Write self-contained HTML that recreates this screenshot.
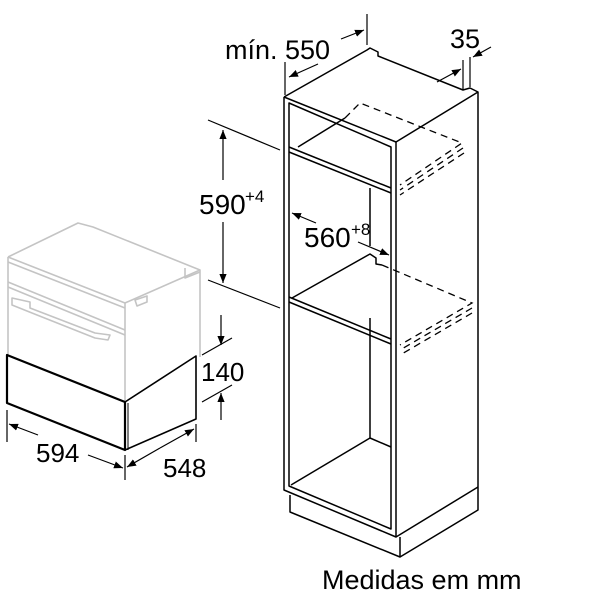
<!DOCTYPE html>
<html><head><meta charset="utf-8"><style>
html,body{margin:0;padding:0;background:#fff;}
svg{display:block;}
text{font-family:"Liberation Sans",sans-serif;fill:#000;}
</style></head><body>
<svg width="600" height="600" viewBox="0 0 600 600" xmlns="http://www.w3.org/2000/svg">
<defs>
<marker id="a" viewBox="0 0 10 10" refX="10" refY="5" markerWidth="9" markerHeight="9" orient="auto-start-reverse" markerUnits="userSpaceOnUse"><path d="M0,1 L10,5 L0,9 z" fill="#000"/></marker>
</defs>
<g fill="none" stroke="#c4c4c4" stroke-width="1.6" stroke-linejoin="round">
<path d="M8,257 L78,223 L93,227 L200,270 L200,357"/>
<path d="M8,257 L8,355"/>
<path d="M8,257 L125,303 L200,270"/>
<path d="M8,262 L125,308"/>
<path d="M125,303 L125,402"/>
<path d="M8,282 L125,330"/>
<path d="M8,287 L125,335"/>
<path d="M185,268 L185,278 L200,272"/>
<path d="M12,298 L30,302 L30,308 L95,333 L110,335 L108,340 L95,338 L32,313 L12,305 z"/>
<path d="M135,300 L147,296 L147,302 L137,306 z"/>
</g>
<g fill="none" stroke="#000" stroke-linejoin="round">
<path d="M7,355 L125,402 L125,450 L7,403 z" stroke-width="2.2"/>
<path d="M125,402 L196,356 L196,419 L125,450" stroke-width="1.6"/>
<path d="M128,403 L128,450" stroke-width="1"/>
</g>
<g stroke="#000" stroke-width="1.2" fill="none">
<line x1="7" y1="410" x2="7" y2="442"/>
<line x1="125" y1="455" x2="125" y2="480"/>
<line x1="196" y1="424" x2="196" y2="442"/>
<line x1="38" y1="435" x2="9" y2="424" marker-end="url(#a)"/>
<line x1="88" y1="455" x2="123" y2="468" marker-end="url(#a)"/>
<line x1="160" y1="448" x2="127" y2="467" marker-end="url(#a)"/>
<line x1="160" y1="448" x2="194" y2="429" marker-end="url(#a)"/>
<line x1="202" y1="355" x2="232" y2="338"/>
<line x1="202" y1="402" x2="232" y2="385"/>
<line x1="221" y1="315" x2="221" y2="345" marker-end="url(#a)"/>
<line x1="221" y1="420" x2="221" y2="393" marker-end="url(#a)"/>
</g>
<text x="36" y="462" font-size="26">594</text>
<text x="163" y="477" font-size="26">548</text>
<text x="201" y="381" font-size="26">140</text>
<g fill="none" stroke="#000" stroke-width="1.5" stroke-linejoin="round">
<path d="M284,97 L367,50 L370,48 L378,52 L378,56 L463,90 L470,88 L478,92 L478,510 L400,557 L290,512 L290,495"/>
<path d="M284,97 L396,142 L478,92"/>
<path d="M284,97 L284,490 L396,537 L396,142"/>
<path d="M289,103 L289,486 L391,529 L391,147 z"/>
<path d="M396,537 L478,487"/>
<path d="M400,537 L400,557"/>
<path d="M289,147 L391,188"/>
<path d="M289,152 L391,193"/>
<path d="M298,147 L345,118"/>
<path d="M289,297 L391,339"/>
<path d="M289,302 L391,344"/>
<path d="M292,298 L370,254 L376,258 L376,264 L382,265"/>
<path d="M370,188 L370,246"/>
<path d="M370,318 L370,438 L391,447"/>
<path d="M370,438 L291,485"/>
</g>
<g fill="none" stroke="#000" stroke-width="1.3" stroke-dasharray="7,5">
<path d="M345,118 L360,103 L462,143 L400,185"/>
<path d="M463,148 L400,190"/>
<path d="M464,153 L400,195"/>
<path d="M382,265 L472,303 L400,345"/>
<path d="M472,308 L400,350"/>
<path d="M472,313 L400,355"/>
</g>
<g stroke="#000" stroke-width="1.2" fill="none">
<line x1="285" y1="62" x2="285" y2="95"/>
<line x1="367" y1="14" x2="367" y2="45"/>
<line x1="318" y1="64" x2="289" y2="77" marker-end="url(#a)"/>
<line x1="341" y1="39" x2="364" y2="30" marker-end="url(#a)"/>
<line x1="463" y1="60" x2="463" y2="90"/>
<line x1="470" y1="57" x2="470" y2="87"/>
<line x1="437" y1="82" x2="461" y2="69" marker-end="url(#a)"/>
<line x1="491" y1="47" x2="473" y2="57" marker-end="url(#a)"/>
<line x1="208" y1="120" x2="280" y2="150"/>
<line x1="208" y1="280" x2="280" y2="308"/>
<line x1="223" y1="180" x2="223" y2="130" marker-end="url(#a)"/>
<line x1="223" y1="222" x2="223" y2="283" marker-end="url(#a)"/>
<line x1="316" y1="223" x2="292" y2="213" marker-end="url(#a)"/>
<line x1="358" y1="242" x2="389" y2="255" marker-end="url(#a)"/>
</g>
<text x="225" y="59" font-size="27">mín. 550</text>
<text x="450" y="48" font-size="27">35</text>
<text x="199" y="214" font-size="28">590</text>
<text x="245" y="202" font-size="17">+4</text>
<text x="304" y="247" font-size="28">560</text>
<text x="351" y="235" font-size="17">+8</text>
<text x="322" y="589" font-size="27">Medidas em mm</text>
</svg>
</body></html>
